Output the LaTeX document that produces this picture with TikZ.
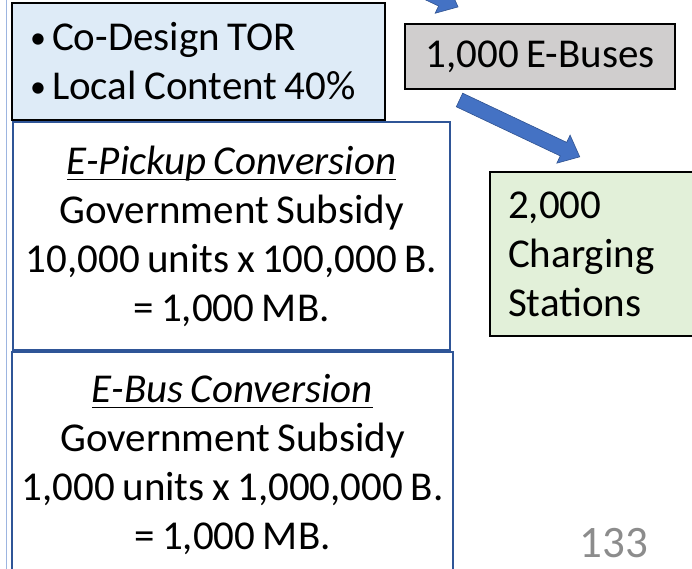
\documentclass[tikz,border=0pt]{standalone}
\usepackage{fontspec}
\setmainfont{Carlito}[WordSpace=0.8]
\usetikzlibrary{calc}
\definecolor{torfill}{HTML}{DEEBF7}
\definecolor{busfill}{HTML}{D0CECE}
\definecolor{chgfill}{HTML}{E2F0D9}
\definecolor{boxblue}{HTML}{2F5597}
\definecolor{arrowblue}{HTML}{4472C4}
\definecolor{arrowedge}{HTML}{2F528F}
\definecolor{edgeline}{HTML}{9DB5E0}
\definecolor{pagegray}{HTML}{8C8C8C}
\newcommand\ulx[1]{\setbox0=\hbox{#1}\rlap{\rule[-6pt]{\wd0}{1.6pt}}\box0}
\newcommand\smbullet{\hspace*{4pt}\makebox[22pt][l]{\raisebox{2.5pt}{\fontsize{32}{32}\selectfont\textbullet}}}
\begin{document}
\begin{tikzpicture}[x=1pt,y=-1pt,
  txt/.style={font=\fontsize{41}{49}\selectfont},
  blackbox/.style={draw=black, line width=2pt, inner sep=0pt, txt},
  bluebox/.style={draw=boxblue, line width=1.6pt, fill=white, inner sep=0pt, txt, align=center},
  fatarrow/.style={fill=arrowblue, draw=arrowedge, line width=0.6pt}]
\useasboundingbox (0,0) rectangle (692,569);
\clip (0,0) rectangle (692,569);

% partial frame at the left edge
\coordinate (lt) at (6.5,0);
\coordinate (lb) at (6.5,569);
\draw[edgeline, line width=1.6pt] (lt) -- (lb);

% boxes
\node[blackbox, fill=torfill, minimum width=373pt, minimum height=117pt,
      text width=345pt, align=left, inner xsep=14pt] (tor) at (198.5,61.5)
  {\spaceskip=0.18em\relax\smbullet Co-Design TOR\\\smbullet Local Content 40\%};

\node[blackbox, fill=busfill, minimum width=270pt, minimum height=65pt] (buses) at (540,56.5)
  {1,000 E-Buses};

\node[blackbox, fill=chgfill, minimum width=220pt, minimum height=164pt,
      text width=184pt, align=left, inner xsep=18pt] (charge) at (600,254)
  {2,000\\Charging\\Stations};

\node[bluebox, minimum width=437pt, minimum height=228pt] (pickup) at (231.5,236)
  {\ulx{\itshape E-Pickup Conversion}\\Government Subsidy\\10,000 units x 100,000 B.\\= 1,000 MB.};

\node[bluebox, minimum width=441pt, minimum height=225pt] (ebus) at (232.5,464.5)
  {\ulx{\itshape E-Bus Conversion}\\Government Subsidy\\1,000 units x 1,000,000 B.\\= 1,000 MB.};

% arrows
\coordinate (a1s) at (337.8,-49.9);
\coordinate (a2s) at (459.5,100);
\begin{scope}[shift={(a1s)}, rotate=-25.3]
  \filldraw[fatarrow] (0,-7.5) -- (115,-7.5) -- (115,-15.5) -- (133,0) -- (115,15.5) -- (115,7.5) -- (0,7.5) -- cycle;
\end{scope}
\begin{scope}[shift={(a2s)}, rotate=-25.3]
  \filldraw[fatarrow] (0,-7.5) -- (115,-7.5) -- (115,-15.5) -- (133,0) -- (115,15.5) -- (115,7.5) -- (0,7.5) -- cycle;
\end{scope}

% page number
\node[text=pagegray, font=\fontsize{45}{54}\selectfont, inner sep=0pt] (pnum) at (614,543) {133};
\end{tikzpicture}
\end{document}
